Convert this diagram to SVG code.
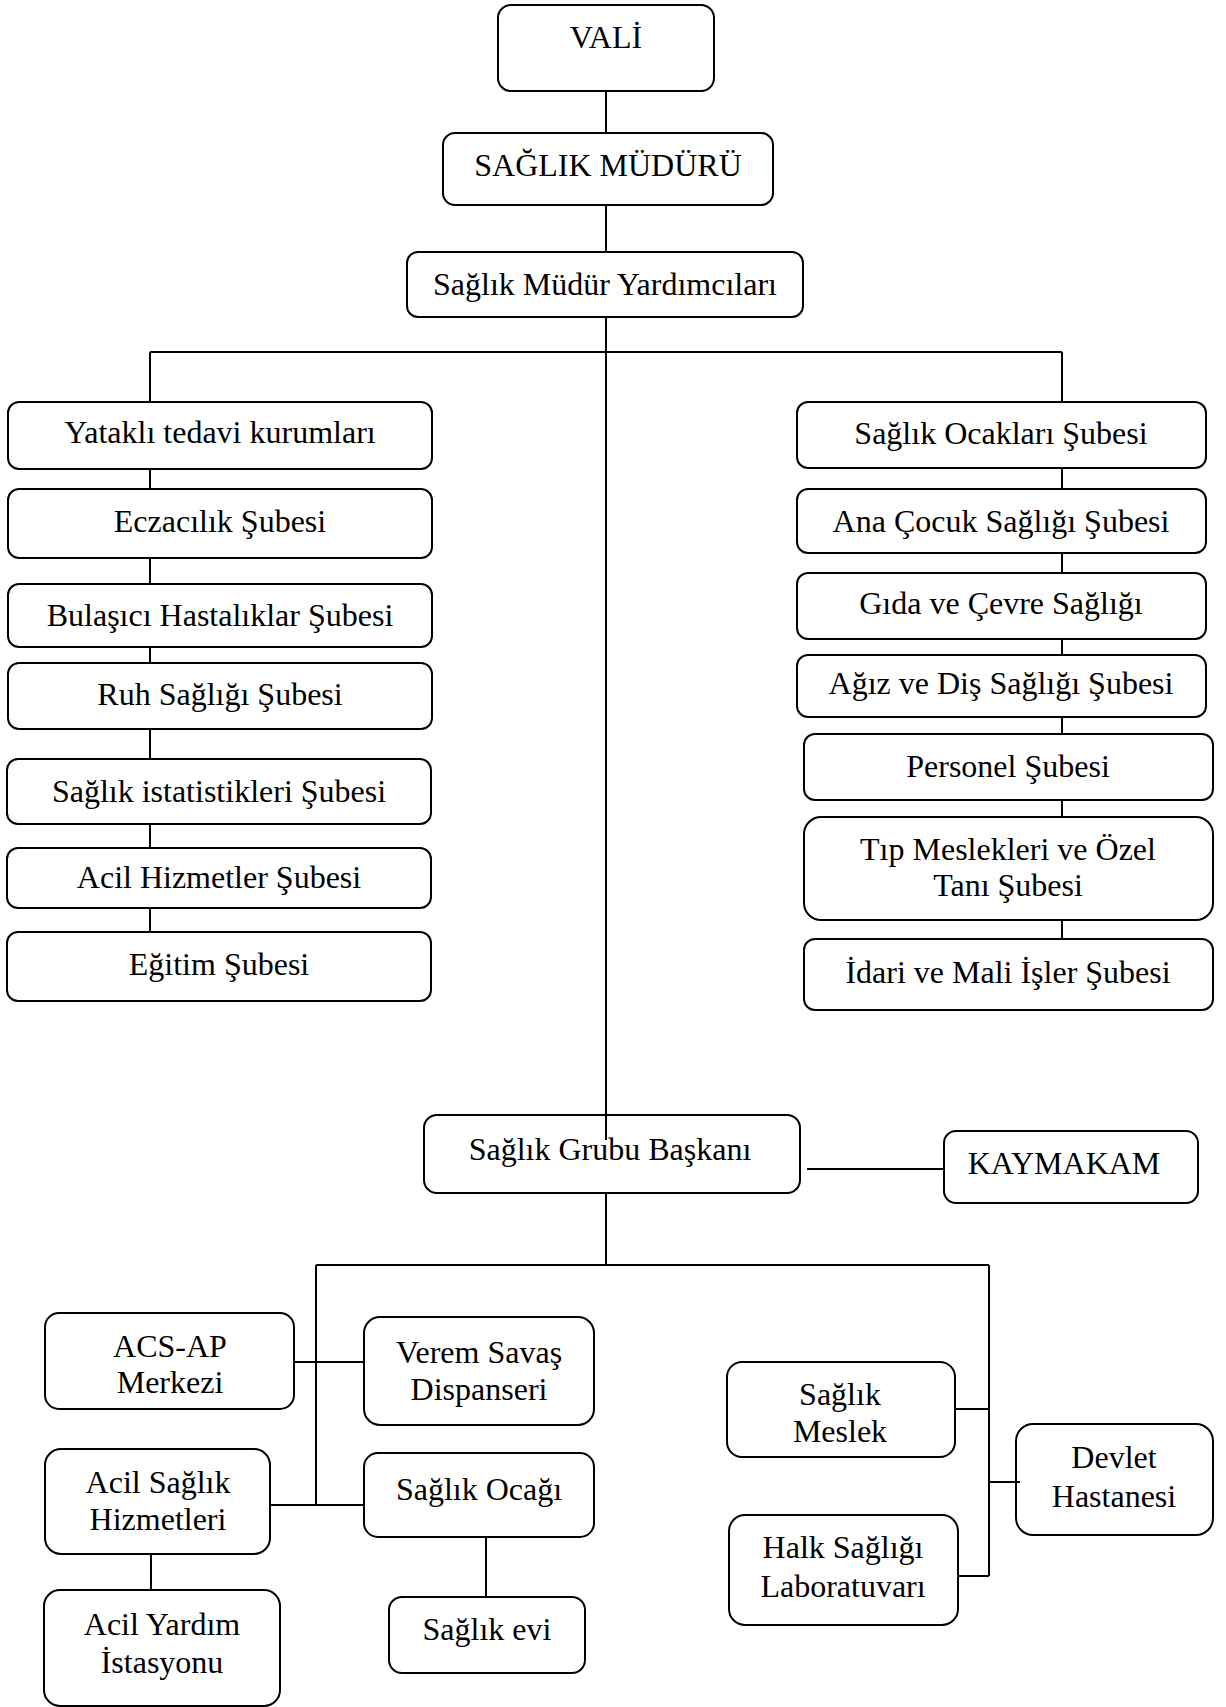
<svg xmlns="http://www.w3.org/2000/svg" width="1226" height="1707" viewBox="0 0 1226 1707">
  <style>
    .box { fill: #ffffff; stroke: #000000; stroke-width: 2; }
    .lbl { font-family: "Liberation Serif", "Times New Roman", serif; font-size: 32px; fill: #000000; text-anchor: middle; }
    .wire { fill: none; stroke: #000000; stroke-width: 2; }
  </style>
  <rect x="0" y="0" width="1226" height="1707" fill="#ffffff"/>

  <g id="nodes">
    <g id="vali"><rect class="box" x="498" y="5" width="216" height="86" rx="13"/><text class="lbl" x="606" y="48">VALİ</text></g>
    <g id="saglik-muduru"><rect class="box" x="443" y="133" width="330" height="72" rx="12"/><text class="lbl" x="608" y="176">SAĞLIK MÜDÜRÜ</text></g>
    <g id="mudur-yardimcilari"><rect class="box" x="407" y="252" width="396" height="65" rx="11"/><text class="lbl" x="605" y="295">Sağlık Müdür Yardımcıları</text></g>

    <!-- left branch -->
    <g id="yatakli"><rect class="box" x="8" y="402" width="424" height="67" rx="11"/><text class="lbl" x="220" y="443">Yataklı tedavi kurumları</text></g>
    <g id="eczacilik"><rect class="box" x="8" y="489" width="424" height="69" rx="11"/><text class="lbl" x="220" y="532">Eczacılık Şubesi</text></g>
    <g id="bulasici"><rect class="box" x="8" y="584" width="424" height="63" rx="11"/><text class="lbl" x="220" y="626">Bulaşıcı Hastalıklar Şubesi</text></g>
    <g id="ruh-sagligi"><rect class="box" x="8" y="663" width="424" height="66" rx="11"/><text class="lbl" x="220" y="705">Ruh Sağlığı Şubesi</text></g>
    <g id="istatistik"><rect class="box" x="7" y="759" width="424" height="65" rx="11"/><text class="lbl" x="219" y="802">Sağlık istatistikleri Şubesi</text></g>
    <g id="acil-hizmetler"><rect class="box" x="7" y="848" width="424" height="60" rx="11"/><text class="lbl" x="219" y="888">Acil Hizmetler Şubesi</text></g>
    <g id="egitim"><rect class="box" x="7" y="932" width="424" height="69" rx="11"/><text class="lbl" x="219" y="975">Eğitim Şubesi</text></g>

    <!-- right branch -->
    <g id="saglik-ocaklari"><rect class="box" x="797" y="402" width="409" height="66" rx="11"/><text class="lbl" x="1001" y="444">Sağlık Ocakları Şubesi</text></g>
    <g id="ana-cocuk"><rect class="box" x="797" y="489" width="409" height="64" rx="11"/><text class="lbl" x="1001" y="532">Ana Çocuk Sağlığı Şubesi</text></g>
    <g id="gida-cevre"><rect class="box" x="797" y="573" width="409" height="66" rx="11"/><text class="lbl" x="1001" y="614">Gıda ve Çevre Sağlığı</text></g>
    <g id="agiz-dis"><rect class="box" x="797" y="655" width="409" height="62" rx="11"/><text class="lbl" x="1001" y="694">Ağız ve Diş Sağlığı Şubesi</text></g>
    <g id="personel"><rect class="box" x="804" y="734" width="409" height="66" rx="11"/><text class="lbl" x="1008" y="777">Personel Şubesi</text></g>
    <g id="tip-meslekleri"><rect class="box" x="804" y="817" width="409" height="103" rx="17"/><text class="lbl" x="1008" y="860">Tıp Meslekleri ve Özel</text><text class="lbl" x="1008" y="896">Tanı Şubesi</text></g>
    <g id="idari-mali"><rect class="box" x="804" y="939" width="409" height="71" rx="11"/><text class="lbl" x="1008" y="983">İdari ve Mali İşler Şubesi</text></g>

    <!-- district level -->
    <g id="grup-baskani"><rect class="box" x="424" y="1115" width="376" height="78" rx="13"/><text class="lbl" x="610" y="1160">Sağlık Grubu Başkanı</text></g>
    <g id="kaymakam"><rect class="box" x="944" y="1131" width="254" height="72" rx="12"/><text class="lbl" x="1064" y="1174">KAYMAKAM</text></g>

    <g id="acs-ap"><rect class="box" x="45" y="1313" width="249" height="96" rx="14"/><text class="lbl" x="170" y="1357">ACS-AP</text><text class="lbl" x="170" y="1393">Merkezi</text></g>
    <g id="verem-savas"><rect class="box" x="364" y="1317" width="230" height="108" rx="16"/><text class="lbl" x="479" y="1363">Verem Savaş</text><text class="lbl" x="479" y="1400">Dispanseri</text></g>
    <g id="acil-saglik"><rect class="box" x="45" y="1449" width="225" height="105" rx="16"/><text class="lbl" x="158" y="1493">Acil Sağlık</text><text class="lbl" x="158" y="1530">Hizmetleri</text></g>
    <g id="saglik-ocagi"><rect class="box" x="364" y="1453" width="230" height="84" rx="14"/><text class="lbl" x="479" y="1500">Sağlık Ocağı</text></g>
    <g id="acil-yardim"><rect class="box" x="44" y="1590" width="236" height="116" rx="16"/><text class="lbl" x="162" y="1635">Acil Yardım</text><text class="lbl" x="162" y="1673">İstasyonu</text></g>
    <g id="saglik-evi"><rect class="box" x="389" y="1597" width="196" height="76" rx="13"/><text class="lbl" x="487" y="1640">Sağlık evi</text></g>
    <g id="saglik-meslek"><rect class="box" x="727" y="1362" width="228" height="95" rx="15"/><text class="lbl" x="840" y="1405">Sağlık</text><text class="lbl" x="840" y="1442">Meslek</text></g>
    <g id="halk-sagligi-lab"><rect class="box" x="729" y="1515" width="229" height="110" rx="16"/><text class="lbl" x="843" y="1558">Halk Sağlığı</text><text class="lbl" x="843" y="1597">Laboratuvarı</text></g>
    <g id="devlet-hastanesi"><rect class="box" x="1016" y="1424" width="197" height="111" rx="17"/><text class="lbl" x="1114" y="1468">Devlet</text><text class="lbl" x="1114" y="1507">Hastanesi</text></g>
  </g>

  <g id="connectors" class="wire">
    <!-- main spine -->
    <path d="M606 91V133M606 205V252M606 317V1140"/>
    <!-- branch bar -->
    <path d="M150 352H1062M150 352V402M1062 352V402"/>
    <!-- left column links -->
    <path d="M150 469V489M150 558V584M150 647V663M150 729V759M150 824V848M150 908V932"/>
    <!-- right column links -->
    <path d="M1062 468V489M1062 553V573M1062 639V655M1062 717V734M1062 800V817M1062 920V939"/>
    <!-- group head to district governor -->
    <path d="M807 1169H944"/>
    <!-- district bar -->
    <path d="M606 1193V1265M316 1265H989M316 1265V1505M989 1265V1576"/>
    <path d="M294 1362H364M270 1505H364"/>
    <path d="M151 1554V1590M486 1537V1597"/>
    <path d="M956 1409H989M958 1576H989M989 1482H1020"/>
  </g>
</svg>
